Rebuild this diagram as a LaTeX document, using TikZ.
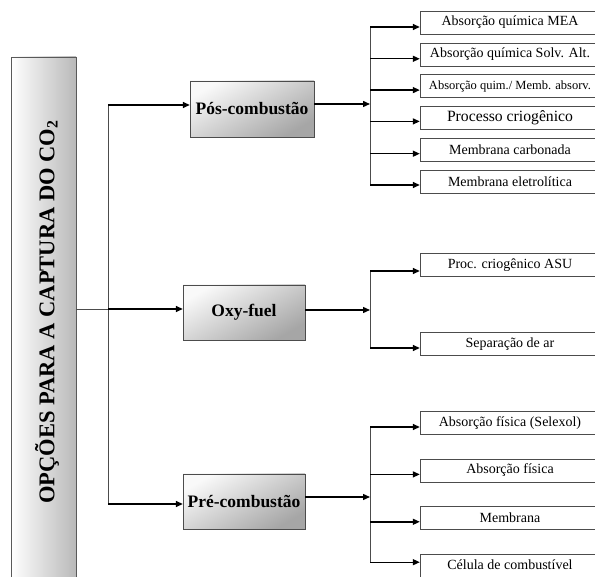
\documentclass[tikz,border=0pt]{standalone}
\usepackage{fontspec}
\setmainfont{Liberation Serif}
\usetikzlibrary{arrows.meta,positioning}

\begin{document}
\begin{tikzpicture}[x=1pt, y=-1pt,
  titlebox/.style={rectangle, draw=gray!70!black, left color=white, right color=gray!55, minimum width=65pt, minimum height=540pt, inner sep=0pt},
  mainbox/.style={rectangle, draw=gray!60!black, top color=gray!5, bottom color=gray!70, shading angle=30, minimum width=122pt, minimum height=55pt, inner sep=0pt, font=\bfseries\fontsize{17.5}{20}\selectfont},
  leaf/.style={rectangle, draw=gray!60!black, fill=white, minimum width=180pt, minimum height=23pt, inner sep=0pt, font=\fontsize{14}{16}\selectfont},
  arrow/.style={-{Triangle[length=7pt,width=6pt]}, line width=1.4pt},
  trunk/.style={draw=gray!60!black, line width=0.8pt},
  node distance=8.4pt
]
  \useasboundingbox (0,0) rectangle (595,577);
  \clip (0,0) rectangle (595,577);

  % left column
  \node (title) [titlebox] at (43.5,327) {};
  \node (caption) [rotate=90, font=\bfseries\fontsize{22.5}{25}\selectfont] at (47,312) {OPÇÕES PARA A CAPTURA DO CO\textsubscript{2}};

  % three routes
  \node (pos) [mainbox, minimum width=124pt, minimum height=56pt] at (252,109) {Pós-combustão};
  \node (oxy) [mainbox] at (244,312.5) {Oxy-fuel};
  \node (pre) [mainbox] at (244,501.5) {Pré-combustão};

  % pos-combustao options
  \node (mea) [leaf] at (510,22.5) {Absorção química MEA};
  \node (solv) [leaf, below=of mea] {Absorção química Solv. Alt.};
  \node (memabs) [leaf, below=of solv, font=\fontsize{12.5}{14}\selectfont] {Absorção quim./ Memb. absorv.};
  \node (crio) [leaf, below=of memabs, font=\fontsize{15.7}{18}\selectfont] {Processo criogênico};
  \node (carb) [leaf, below=of crio] {Membrana carbonada};
  \node (eletro) [leaf, below=of carb] {Membrana eletrolítica};

  % oxy-fuel options
  \node (asu) [leaf] at (510,265) {Proc. criogênico ASU};
  \node (ar) [leaf] at (510,344) {Separação de ar};

  % pre-combustao options
  \node (selexol) [leaf] at (510,423) {Absorção física (Selexol)};
  \node (fisica) [leaf, below=24pt of selexol] {Absorção física};
  \node (membr) [leaf, below=24pt of fisica] {Membrana};
  \node (celula) [leaf, below=24pt of membr] {Célula de combustível};

  % first split
  \coordinate (split) at (108,309);
  \draw[trunk] (title.east |- split) -- (split);
  \draw[trunk] ([yshift=4pt]pos.west -| split) -- ([yshift=-2.5pt]pre.west -| split);
  \draw[arrow] ([yshift=4pt]pos.west -| split) -- ([yshift=4pt]pos.west);
  \draw[arrow] ([yshift=3.5pt]oxy.west -| split) -- ([yshift=3.5pt]oxy.west);
  \draw[arrow] ([yshift=-2.5pt]pre.west -| split) -- ([yshift=-2.5pt]pre.west);

  % second level forks
  \coordinate (posfork) at (370,104);
  \coordinate (oxyfork) at (370,310);
  \coordinate (prefork) at (370,497);
  \draw[arrow] ([yshift=5pt]pos.east) -- (posfork);
  \draw[arrow] ([yshift=2.5pt]oxy.east) -- (oxyfork);
  \draw[arrow] ([yshift=4.5pt]pre.east) -- (prefork);

  \draw[trunk] ([yshift=-4.5pt]mea.west -| posfork) -- ([yshift=-3.5pt]eletro.west -| posfork);
  \draw[trunk] ([yshift=-6pt]asu.west -| oxyfork) -- ([yshift=-4pt]ar.west -| oxyfork);
  \draw[trunk] ([yshift=-4pt]selexol.west -| prefork) -- ([yshift=3pt]celula.west -| prefork);

  \foreach \leafname/\dy/\fork in {mea/-4.5/posfork, solv/-4.5/posfork, memabs/-4/posfork,
      crio/-3.5/posfork, carb/-4/posfork, eletro/-3.5/posfork,
      asu/-6/oxyfork, ar/-4/oxyfork,
      selexol/-4/prefork, fisica/-4/prefork, membr/-4/prefork, celula/3/prefork}
    \draw[arrow] ([yshift=\dy pt]\leafname.west -| \fork) -- ([yshift=\dy pt]\leafname.west);
\end{tikzpicture}
\end{document}
